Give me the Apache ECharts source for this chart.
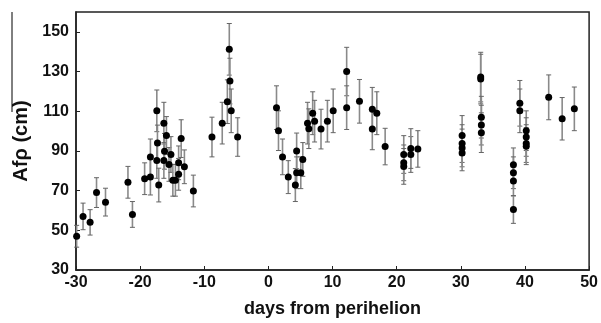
<!DOCTYPE html>
<html>
<head>
<meta charset="utf-8">
<script src="https://cdn.jsdelivr.net/npm/echarts@6/dist/echarts.min.js"></script>
<style>html,body{margin:0;padding:0;background:#fff;}#c{width:601px;height:323px;}</style>
</head>
<body>
<div id="c"></div>
<script>
const days = [-29.9,-28.9,-27.8,-26.8,-25.4,-21.9,-21.2,-19.3,-18.4,-18.4,-17.4,-17.3,-17.4,-17.1,-16.3,-16.2,-16.3,-15.9,-15.5,-15.2,-14.9,-14.5,-14.0,-14.0,-13.6,-13.1,-11.7,-8.8,-7.2,-6.4,-6.1,-6.0,-5.8,-4.8,1.26,1.57,2.2,3.1,4.2,4.4,4.4,5.05,5.36,6.1,6.3,6.9,7.2,8.2,9.2,10.1,12.2,12.2,14.2,16.2,16.2,16.9,18.2,21.1,21.1,21.1,22.2,22.2,23.3,30.2,30.2,30.2,30.2,33.1,33.1,33.2,33.2,33.2,38.2,38.2,38.2,38.2,39.2,39.2,40.2,40.2,40.2,40.2,43.7,45.8,47.7];
const afrho = [47,57,54,69,64.2,74.2,58,76,76.8,87,110.2,94,85.2,72.8,104,89.8,85.2,97.8,83.2,88.2,75.2,75.2,78.2,84,96.2,82,69.8,97,104,114.8,141.2,125.2,110.2,97,111.8,100.2,87,76.8,72.8,90,79,79,85.7,104,101.2,109,105,101,105,110.2,130,111.8,115,111,101,109,92.2,88.2,84,82.2,88.2,91.2,91,97.8,93.7,91.5,89,127.2,126.2,107,103,99.2,83,79,74.8,60.5,114,110.2,100.2,97,93.7,92.4,117,106.2,111.2];
const err = [5.5,6.7,6.4,7.5,7,8,6.5,8,9,9,10.5,9,9,8.5,10.5,9,9,9.5,8.5,9,8,8,8,8.5,9.5,8.5,8,10,10.5,11,13,11.5,11,9.7,11,10,9,8.3,8.3,9,8,8,8.5,10.5,10,10.8,10.5,10,10.5,11,12.2,11,11,11,10.4,10.8,9.2,9.5,9,9,9,10,9.2,10,9.5,9.5,9,12.5,12.5,10.5,10,10,8.5,8,7.5,7,11.5,11,10,9.7,9.5,9.3,11.3,10.7,11];
const xTicks = [-30,-20,-10,0,10,20,30,40,50];
const yTicks = [30,50,70,90,110,130,150];

const pts = days.map((d,i)=>[d, afrho[i]]);
const bars = days.map((d,i)=>[d, afrho[i]-err[i], afrho[i]+err[i]]);

const chart = echarts.init(document.getElementById('c'), null, {renderer:'canvas'});
const F = '"Liberation Sans", Arial, sans-serif';
chart.setOption({
  animation:false,
  backgroundColor:'#fff',
  grid:{left:76,right:11,top:12,bottom:50,show:true,borderColor:'#222',borderWidth:1.5,backgroundColor:'transparent'},
  xAxis:{
    type:'value',min:xTicks[0],max:xTicks[xTicks.length-1],interval:10,
    name:'days from perihelion',nameLocation:'middle',nameGap:30,
    nameTextStyle:{fontFamily:F,fontWeight:'bold',fontSize:18,color:'#111'},
    axisLine:{show:true,onZero:false,lineStyle:{color:'#222',width:1.5}},
    axisTick:{show:true,inside:true,length:4,lineStyle:{color:'#222',width:1}},
    axisLabel:{fontFamily:F,fontWeight:'bold',fontSize:16,color:'#111',margin:5},
    splitLine:{show:false}
  },
  yAxis:{
    type:'value',min:yTicks[0],max:160,interval:20,
    name:'Afρ (cm)',nameLocation:'middle',nameGap:45,
    nameTextStyle:{fontFamily:F,fontWeight:'bold',fontSize:20,color:'#111'},
    axisLine:{show:true,onZero:false,lineStyle:{color:'#222',width:1.5}},
    axisTick:{show:true,inside:true,length:4,lineStyle:{color:'#222',width:1}},
    axisLabel:{fontFamily:F,fontWeight:'bold',fontSize:16,color:'#111',margin:7,showMaxLabel:false},
    splitLine:{show:false}
  },
  series:[
    {
      type:'custom',
      data:bars,
      encode:{x:0,y:[1,2]},
      z:2,
      renderItem:function(params, api){
        const x = api.value(0);
        const lo = api.coord([x, api.value(1)]);
        const hi = api.coord([x, api.value(2)]);
        const cw = 2.5;
        return {type:'group',children:[
          {type:'line',shape:{x1:lo[0],y1:lo[1],x2:hi[0],y2:hi[1]},style:{stroke:'#8a8a8a',lineWidth:1.6}},
          {type:'line',shape:{x1:lo[0]-cw,y1:lo[1],x2:lo[0]+cw,y2:lo[1]},style:{stroke:'#666',lineWidth:1}},
          {type:'line',shape:{x1:hi[0]-cw,y1:hi[1],x2:hi[0]+cw,y2:hi[1]},style:{stroke:'#666',lineWidth:1}}
        ]};
      }
    },
    {
      type:'scatter',
      data:pts,
      symbol:'circle',
      symbolSize:7,
      z:3,
      itemStyle:{color:'#000',opacity:1}
    }
  ],
  graphic:[
    {type:'line',shape:{x1:12,y1:12,x2:12,y2:112},style:{stroke:'#000',lineWidth:1}}
  ]
});
</script>
</body>
</html>
